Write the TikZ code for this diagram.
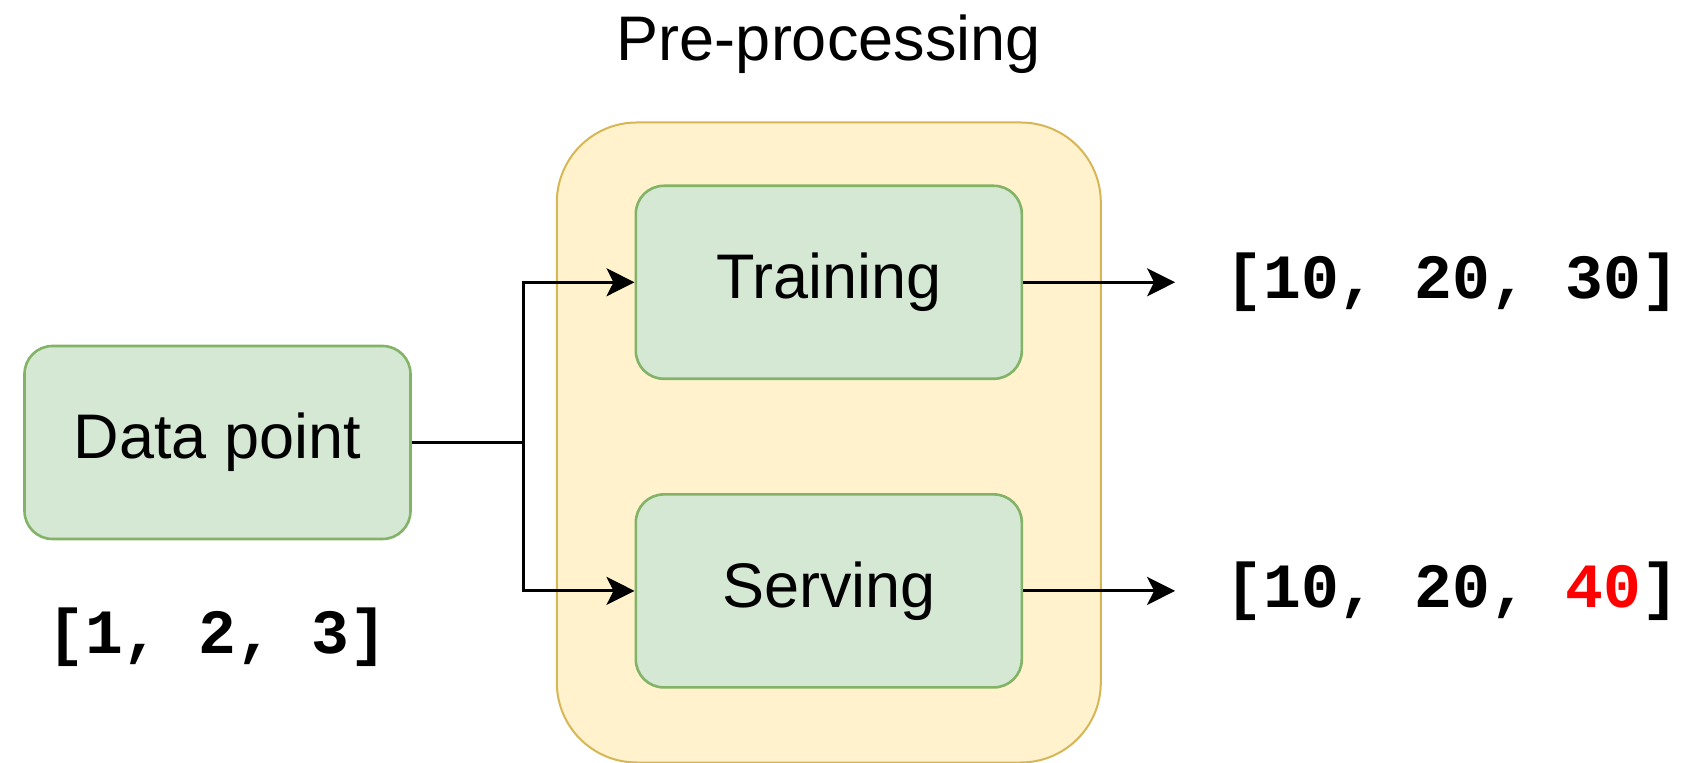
\documentclass[tikz,border=0pt]{standalone}
\usepackage{xcolor}
\usepackage{fontspec}
\setmainfont{Liberation Sans}
\setmonofont{Liberation Mono}
\usepackage{tikz}
\usetikzlibrary{positioning}
\usetikzlibrary{arrows.meta}

\definecolor{stepfill}{HTML}{D5E8D4}
\definecolor{stepline}{HTML}{82B366}
\definecolor{groupfill}{HTML}{FFF2CC}
\definecolor{groupline}{HTML}{D6B656}
\tikzset{edge/.style = {-{Stealth[length=14pt,width=14pt,inset=3.5pt]}, line width=1.4pt}}

\begin{document}
\begin{tikzpicture}[x=0.5pt,y=-0.5pt,
    every node/.style={font=\fontsize{31.5}{38}\selectfont},
    main node/.style={rectangle,rounded corners=14pt,draw=stepline,fill=stepfill,line width=1.3pt,
        minimum width=193pt,minimum height=96.5pt,inner sep=0pt},
    group node/.style={rectangle,rounded corners=40pt,draw=groupline,fill=groupfill,line width=1pt,
        minimum width=272pt,minimum height=320pt,inner sep=0pt},
    value/.style={inner sep=0pt,font=\fontsize{31.5}{38}\selectfont\ttfamily\bfseries}]
    \useasboundingbox (0,0) rectangle (1691,763);

    \node[main node] (data) at (217.5,442.5) {Data point};
    \node[group node] (prep) [right=72pt of data] {};
    \node[inner sep=0pt] (title) [above=24pt of prep] {Pre-processing};
    \node[main node] (train) [below=31.5pt of prep.north] {Training};
    \node[main node] (serve) [below=56.5pt of train] {Serving};

    \node[value] (in) [below=33.5pt of data] {[1, 2, 3]};
    \node[value] (out1) [right=101pt of train] {[10, 20, 30]};
    \node[value] (out2) [right=101pt of serve] {[10, 20, \textcolor{red}{40}]};

    % split the data point into both pipelines
    \coordinate[right=56pt of data] (fork);
    \draw[line width=1.4pt] (data) -- (fork);
    \draw[edge] (fork) |- (train);
    \draw[edge] (fork) |- (serve);

    \draw[edge, shorten >=25pt] (train) -- (out1);
    \draw[edge, shorten >=25pt] (serve) -- (out2);
\end{tikzpicture}
\end{document}
